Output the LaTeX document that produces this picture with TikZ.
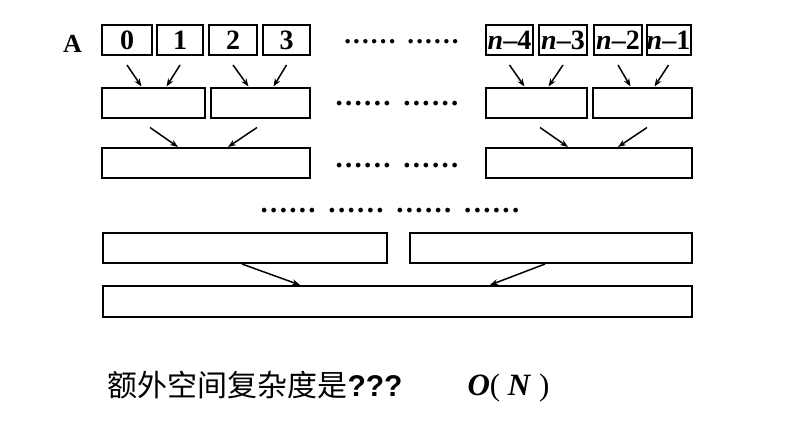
\documentclass[tikz,border=0pt]{standalone}
\usepackage{fontspec}
\setmainfont{Liberation Serif}
\newfontfamily\cjkfont{Noto Sans CJK SC}
\newfontfamily\qfont{Liberation Sans}
\newfontfamily\dotfont[LetterSpace=8]{Liberation Serif Bold}
\usetikzlibrary{arrows.meta}
\tikzset{
  cell/.style={draw,line width=2pt,inner sep=0pt,minimum height=30pt,
    font=\fontsize{28}{28}\selectfont\bfseries},
  merge/.style={line width=1.5pt,-{Stealth[length=8pt,width=6pt]}},
  dotrow/.style={font=\fontsize{29}{29}\dotfont}
}

\begin{document}
\begin{tikzpicture}[x=1pt,y=-1pt]
    \useasboundingbox (0,0) rectangle (806,429);
    \node[font=\fontsize{26}{26}\selectfont\bfseries] (arr) at (72.5,43.5) {A};
    %first row: the single elements
    \foreach \x/\w/\t/\n in {127/50/0/b0,180/46/1/b1,233/48/2/b2,286.5/47/3/b3}
        \node[cell,minimum width=\w pt] (\n) at (\x,40) {\t};
    \foreach \x/\w/\t/\n in {509.5/47/4/bn4,563/48/3/bn3,618/48/2/bn2,668.5/44/1/bn1}
        \node[cell,minimum width=\w pt] (\n) at (\x,40) {\textit{n}\textendash\t};
    %merged runs
    \node[cell,minimum width=103pt] (m0) at (153.5,102.5) {};
    \node[cell,minimum width=99pt] (m1) at (260.5,102.5) {};
    \node[cell,minimum width=101pt] (m2) at (536.5,102.5) {};
    \node[cell,minimum width=99pt] (m3) at (642.5,102.5) {};
    \node[cell,minimum width=208pt] (l0) at (206,163) {};
    \node[cell,minimum width=206pt] (l1) at (589,163) {};
    \node[cell,minimum width=284pt] (p0) at (245,248) {};
    \node[cell,minimum width=282pt] (p1) at (551,248) {};
    \node[cell,minimum width=589pt,minimum height=31pt] (r0) at (397.5,301.5) {};
    %dots
    \node[dotrow,font=\fontsize{27}{27}\dotfont] (d0) at (401.5,42) {...... ......};
    \node[dotrow] (d1) at (397,104) {...... ......};
    \node[dotrow] (d2) at (397,166) {...... ......};
    \node[dotrow] (d3) at (390,211) {...... ...... ...... ......};
    %arrows
    \draw[merge] ([yshift=-9pt]b0.south) -- ([xshift=-12pt]m0.north);
    \draw[merge] ([yshift=-9pt]b1.south) -- ([xshift=13pt]m0.north);
    \draw[merge] ([yshift=-9pt]b2.south) -- ([xshift=-12pt]m1.north);
    \draw[merge] ([yshift=-9pt]b3.south) -- ([xshift=13pt]m1.north);
    \draw[merge] ([yshift=-9pt]bn4.south) -- ([xshift=-12pt]m2.north);
    \draw[merge] ([yshift=-9pt]bn3.south) -- ([xshift=12pt]m2.north);
    \draw[merge] ([yshift=-9pt]bn2.south) -- ([xshift=-12pt]m3.north);
    \draw[merge] ([yshift=-9pt]bn1.south) -- ([xshift=12pt]m3.north);
    \draw[merge] ([xshift=-3.5pt,yshift=-9pt]m0.south) -- ([xshift=-28pt]l0.north);
    \draw[merge] ([xshift=-3.5pt,yshift=-9pt]m1.south) -- ([xshift=22pt]l0.north);
    \draw[merge] ([xshift=3.5pt,yshift=-9pt]m2.south) -- ([xshift=-21pt]l1.north);
    \draw[merge] ([xshift=4.5pt,yshift=-9pt]m3.south) -- ([xshift=29pt]l1.north);
    \draw[merge] ([xshift=-3pt]p0.south) -- ([xshift=-97.5pt]r0.north);
    \draw[merge] ([xshift=-6pt]p1.south) -- ([xshift=92.5pt]r0.north);
    %question
    \node[anchor=west,font=\fontsize{30}{30}\cjkfont] (quest) at (104,385) {额外空间复杂度是{\qfont\bfseries ???}};
    \node[anchor=west,font=\fontsize{31}{31}\selectfont] (answer) at (464,388) {\textbf{\textit{O}}(\ \textbf{\textit{N}}\ )};
\end{tikzpicture}
\end{document}
